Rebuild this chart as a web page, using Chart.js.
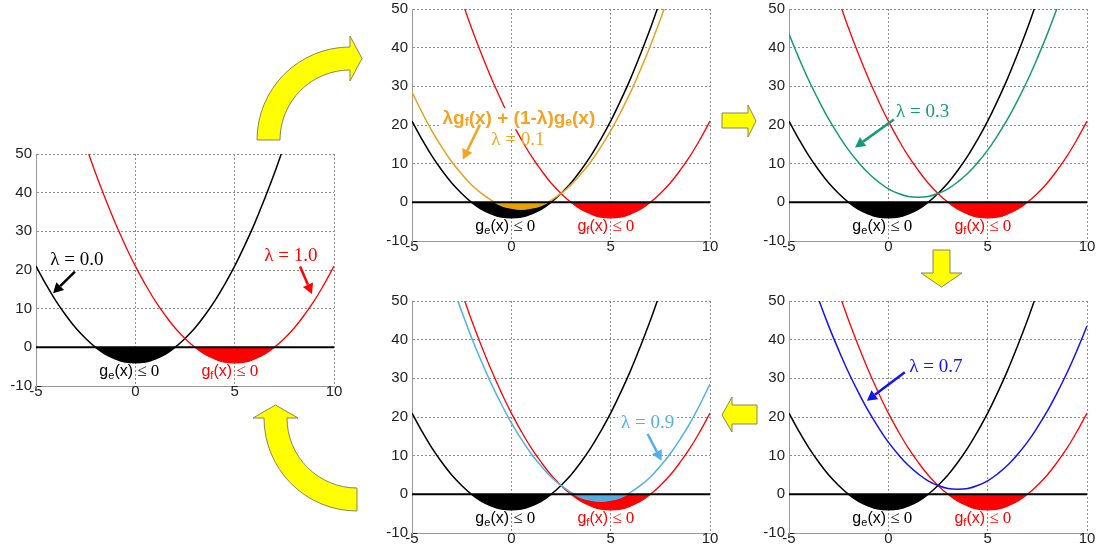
<!DOCTYPE html>
<html>
<head>
<meta charset="utf-8">
<script src="https://cdn.jsdelivr.net/npm/chart.js@4.4.1/dist/chart.umd.min.js"></script>
<style>
  body { margin: 0; background: #fff; }
  #wrap { position: relative; width: 1096px; height: 552px; overflow: hidden; background: #fff; }
  #wrap canvas { position: absolute; }
</style>
</head>
<body>
<div id="wrap"><canvas id="deco" width="1096" height="552" style="left:0;top:0;z-index:5"></canvas></div>
<script>
// x positions (step 0.5) and curve values
var xs = [-5,-4.5,-4,-3.5,-3,-2.5,-2,-1.5,-1,-0.5,0,0.5,1,1.5,2,2.5,3,3.5,4,4.5,5,5.5,6,6.5,7,7.5,8,8.5,9,9.5,10];
var gE = [21,16.3,12,8.3,5,2.3,0,-1.8,-3,-3.8,-4,-3.8,-3,-1.8,0,2.3,5,8.3,12,16.3,21,26.3,32,38.3,45,52.3,null,null,null,null,null];
var gF = [null,null,null,null,null,52.3,45,38.3,32,26.3,21,16.3,12,8.3,5,2.3,0,-1.8,-3,-3.8,-4,-3.8,-3,-1.8,0,2.3,5,8.3,12,16.3,21];
var mix01 = [28.5,23.3,18.5,14.3,10.5,7.3,4.5,2.3,0.5,-0.8,-1.5,-1.8,-1.5,-0.8,0.5,2.3,4.5,7.3,10.5,14.3,18.5,23.3,28.5,34.3,40.5,47.3,54.5,null,null,null,null];
var mix03 = [43.5,37.3,31.5,26.3,21.5,17.3,13.5,10.3,7.5,5.3,3.5,2.3,1.5,1.3,1.5,2.3,3.5,5.3,7.5,10.3,13.5,17.3,21.5,26.3,31.5,37.3,43.5,50.3,null,null,null];
var mix07 = [null,null,57.5,50.3,43.5,37.3,31.5,26.3,21.5,17.3,13.5,10.3,7.5,5.3,3.5,2.3,1.5,1.3,1.5,2.3,3.5,5.3,7.5,10.3,13.5,17.3,21.5,26.3,31.5,37.3,43.5];
var mix09 = [null,null,null,null,54.5,47.3,40.5,34.3,28.5,23.3,18.5,14.3,10.5,7.3,4.5,2.3,0.5,-0.8,-1.5,-1.8,-1.5,-0.8,0.5,2.3,4.5,7.3,10.5,14.3,18.5,23.3,28.5];
var zeroLine = xs.map(function() { return 0; });
var xTicks = [-5, 0, 5, 10];
var yTicks = [-10, 0, 10, 20, 30, 40, 50];

var PLOT_W = 298, PLOT_H = 235, AX_W = 40, AX_H = 20, PAD_T = 10, PAD_R = 12;
var SANS = "'Liberation Sans', Arial, sans-serif";
var SERIF = "'Liberation Serif', 'Times New Roman', serif";

function pts(ys) {
    return xs.map(function(x, i) { return { x: x, y: ys[i] }; });
}

function series(ys, color, width, order, fillColor) {
    return {
        data: pts(ys),
        borderColor: color,
        borderWidth: width,
        pointRadius: 0,
        tension: 0.4,
        order: order,
        fill: fillColor ? { target: 'origin', above: 'rgba(0,0,0,0)', below: fillColor } : false
    };
}

function lam(text, color) {
    return [{ text: text, font: '19px ' + SERIF, color: color }];
}
function gLabel(sub, color) {
    return [
        { text: 'g', font: '16px ' + SANS, color: color },
        { text: sub, font: '11px ' + SANS, color: color, dy: 4 },
        { text: '(x)', font: '16px ' + SANS, color: color },
        { text: ' \u2264 0', font: '17px ' + SERIF, color: color }
    ];
}
var formula = [
    { text: '\u03bbg', font: 'bold 19px ' + SANS, color: '#f5a320' },
    { text: 'f', font: 'bold 12px ' + SANS, color: '#f5a320', dy: 4 },
    { text: '(x) + (1-\u03bb)g', font: 'bold 19px ' + SANS, color: '#f5a320' },
    { text: 'e', font: 'bold 12px ' + SANS, color: '#f5a320', dy: 4 },
    { text: '(x)', font: 'bold 19px ' + SANS, color: '#f5a320' }
];

var commonNotes = [
    { at: [-0.3, -6.3], runs: gLabel('e', '#000') },
    { at: [4.76, -6.3], runs: gLabel('f', '#f00') }
];

var panels = [
    { left: 36, top: 151, mix: null,
      notes: [
        { at: [-2.94, 22.7], runs: lam('\u03bb = 0.0', '#000') },
        { arrow: [-3.04, 19.6, -4.14, 14.0], color: '#000' },
        { at: [7.83, 23.7], runs: lam('\u03bb = 1.0', '#f00') },
        { arrow: [8.29, 20.9, 8.89, 13.8], color: '#f00' }
      ] },
    { left: 412, top: 6, mix: { ys: mix01, color: '#e2a21e', fill: '#e8a000' },
      notes: [
        { at: [0.38, 21.6], runs: formula, bg: 21 },
        { at: [0.33, 16.0], runs: lam('\u03bb = 0.1', '#f5a320') },
        { arrow: [-1.58, 20.1, -2.44, 11.1], color: '#f5a320' }
      ] },
    { left: 789, top: 6, mix: { ys: mix03, color: '#16997a', fill: null },
      notes: [
        { at: [1.73, 23.4], runs: lam('\u03bb = 0.3', '#16997a') },
        { arrow: [0.28, 21.4, -1.68, 14.2], color: '#16997a' }
      ] },
    { left: 412, top: 298, mix: { ys: mix09, color: '#52b0e6', fill: '#52aee0' },
      notes: [
        { at: [6.86, 18.4], runs: lam('\u03bb = 0.9', '#52b0e6'), bg: 20 },
        { arrow: [6.86, 15.6, 7.56, 8.7], color: '#52b0e6' }
      ] },
    { left: 789, top: 298, mix: { ys: mix07, color: '#1414ee', fill: null },
      notes: [
        { at: [2.39, 32.9], runs: lam('\u03bb = 0.7', '#1414ee') },
        { arrow: [0.83, 31.6, -1.08, 24.2], color: '#1414ee' }
      ] }
];

function drawRuns(ctx, cx, cy, runs, bg) {
    var w = 0;
    runs.forEach(function(r) { ctx.font = r.font; r.w = ctx.measureText(r.text).width; w += r.w; });
    var x = cx - w / 2;
    if (bg) {
        ctx.fillStyle = '#fff';
        ctx.fillRect(x - 3, cy - bg / 2, w + 6, bg);
    }
    ctx.textAlign = 'left';
    ctx.textBaseline = 'middle';
    runs.forEach(function(r) {
        ctx.font = r.font;
        ctx.fillStyle = r.color;
        ctx.fillText(r.text, x, cy + (r.dy || 0));
        x += r.w;
    });
}

function drawArrow(ctx, x1, y1, x2, y2, color) {
    var a = Math.atan2(y2 - y1, x2 - x1), h = 10, hw = 5.5;
    var bx = x2 - h * Math.cos(a), by = y2 - h * Math.sin(a);
    ctx.strokeStyle = color;
    ctx.lineWidth = 2.5;
    ctx.beginPath();
    ctx.moveTo(x1, y1);
    ctx.lineTo(bx, by);
    ctx.stroke();
    ctx.fillStyle = color;
    ctx.beginPath();
    ctx.moveTo(x2, y2);
    ctx.lineTo(bx + hw * Math.sin(a), by - hw * Math.cos(a));
    ctx.lineTo(bx - hw * Math.sin(a), by + hw * Math.cos(a));
    ctx.closePath();
    ctx.fill();
}

function notesPlugin(list) {
    return {
        id: 'notes',
        afterDatasetsDraw: function(chart) {
            var ctx = chart.ctx, sx = chart.scales.x, sy = chart.scales.y;
            ctx.save();
            list.forEach(function(n) {
                if (n.arrow) {
                    drawArrow(ctx, sx.getPixelForValue(n.arrow[0]), sy.getPixelForValue(n.arrow[1]),
                        sx.getPixelForValue(n.arrow[2]), sy.getPixelForValue(n.arrow[3]), n.color);
                } else {
                    drawRuns(ctx, sx.getPixelForValue(n.at[0]), sy.getPixelForValue(n.at[1]), n.runs, n.bg);
                }
            });
            ctx.restore();
        }
    };
}

var wrap = document.getElementById('wrap');
var tickFont = { family: SANS, size: 15 };

panels.forEach(function(p) {
    var c = document.createElement('canvas');
    c.width = AX_W + PLOT_W + PAD_R;
    c.height = PAD_T + PLOT_H + AX_H;
    c.style.left = (p.left - AX_W) + 'px';
    c.style.top = (p.top - PAD_T) + 'px';
    wrap.appendChild(c);

    var datasets = [
        series(zeroLine, '#000', 2, 0, null),
        series(gF, '#f00', 1.3, 2, '#f00'),
        series(gE, '#000', 1.5, 3, '#000')
    ];
    if (p.mix) datasets.push(series(p.mix.ys, p.mix.color, 1.5, 1, p.mix.fill));

    new Chart(c.getContext('2d'), {
        type: 'line',
        data: { datasets: datasets },
        options: {
            responsive: false,
            animation: false,
            devicePixelRatio: 1,
            layout: { padding: { top: PAD_T, right: PAD_R, left: 0, bottom: 0 } },
            plugins: { legend: { display: false }, tooltip: { enabled: false } },
            scales: {
                x: {
                    type: 'linear', min: xTicks[0], max: xTicks[xTicks.length - 1],
                    afterBuildTicks: function(s) { s.ticks = xTicks.map(function(v) { return { value: v }; }); },
                    ticks: { font: tickFont, color: '#222', padding: -3, maxRotation: 0 },
                    grid: { color: '#8c8c8c', drawTicks: false },
                    border: { color: '#999', dash: [2, 2] },
                    afterFit: function(s) { s.height = AX_H; }
                },
                y: {
                    min: yTicks[0], max: yTicks[yTicks.length - 1],
                    afterBuildTicks: function(s) { s.ticks = yTicks.map(function(v) { return { value: v }; }); },
                    ticks: { font: tickFont, color: '#222', padding: 4 },
                    grid: { color: '#8c8c8c', drawTicks: false },
                    border: { color: '#999', dash: [2, 2] },
                    afterFit: function(s) { s.width = AX_W; }
                }
            }
        },
        plugins: [notesPlugin(commonNotes.concat(p.notes))]
    });
});

// yellow transition arrows
var d = document.getElementById('deco').getContext('2d');
d.fillStyle = '#ffff00';
d.strokeStyle = '#85855f';
d.lineWidth = 1;
function shape(fn) { d.beginPath(); fn(); d.closePath(); d.fill(); d.stroke(); }
shape(function() {
    d.arc(350, 140, 93, Math.PI, 1.5 * Math.PI);
    d.lineTo(350, 36); d.lineTo(362, 58.5); d.lineTo(350, 81); d.lineTo(350, 70);
    d.arc(350, 140, 70, 1.5 * Math.PI, Math.PI, true);
});
shape(function() {
    d.arc(357, 418, 93, 0.5 * Math.PI, Math.PI);
    d.lineTo(253, 418); d.lineTo(275.5, 405); d.lineTo(298, 418); d.lineTo(287, 418);
    d.arc(357, 418, 70, Math.PI, 0.5 * Math.PI, true);
});
function poly(list) {
    shape(function() { d.moveTo(list[0], list[1]); for (var i = 2; i < list.length; i += 2) d.lineTo(list[i], list[i + 1]); });
}
poly([722,113, 748,113, 748,105, 756,121, 748,137, 748,128, 722,128]);
poly([933,250, 950,250, 950,273, 962,273, 941.5,287, 921,273, 933,273]);
poly([757,405, 732,405, 732,397, 722,415, 732,432, 732,424, 757,424]);
</script>
</body>
</html>
